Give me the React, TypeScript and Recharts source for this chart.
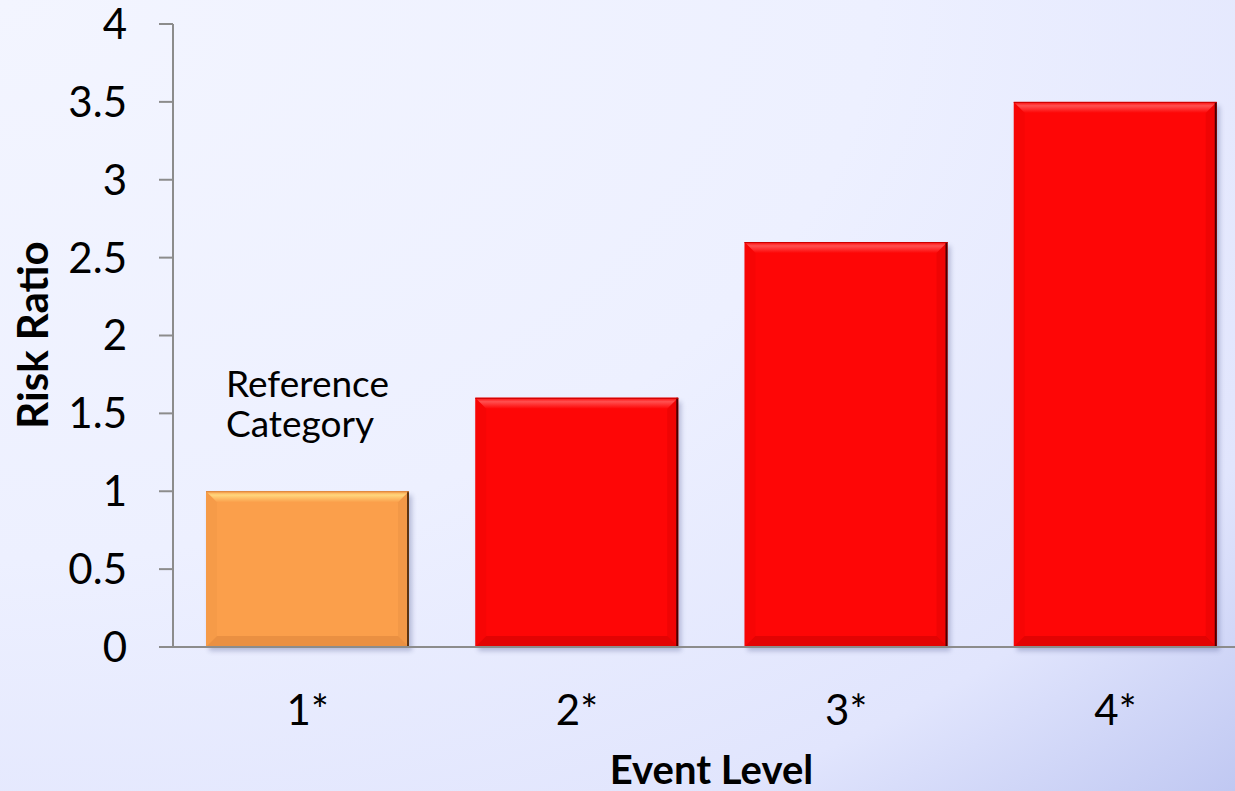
import { BarChart, Bar, XAxis, YAxis, LabelList } from "recharts";

const LEVELS = ["1*", "2*", "3*", "4*"];
const RISK = [1, 1.6, 2.6, 3.5];
const Y_TICKS = [0, 0.5, 1, 1.5, 2, 2.5, 3, 3.5, 4];
const NOTE = ["Reference", "Category"];

// bar tones: base, highlight, shade, edge
const TONES = [
  { base: "#FB9F4B", hi: "#FFD67C", shade: "#D9823A", edge: "#5C3310" },
  { base: "#FE0606", hi: "#FF5050", shade: "#C80000", edge: "#4A0000" },
  { base: "#FE0606", hi: "#FF5050", shade: "#C80000", edge: "#4A0000" },
  { base: "#FE0606", hi: "#FF5050", shade: "#C80000", edge: "#4A0000" },
];

const data = LEVELS.map((name, i) => ({ name, risk: RISK[i] }));

const FONT = "Lato, 'Open Sans', sans-serif";

function BevelBar(props: any) {
  const { x, y, width, height, index } = props;
  const t = TONES[index] || TONES[1];
  const b = Math.min(11, height / 2);
  const r = x + width;
  const btm = y + height;
  return (
    <g>
      <rect x={x + 3} y={y + 4} width={width} height={height} fill="#3a4480" opacity={0.3} filter="url(#shadowBlur)" />
      <rect x={x} y={y} width={width} height={height} fill={t.base} />
      <polygon points={`${x},${y} ${r},${y} ${r - b},${y + b} ${x + b},${y + b}`} fill={`url(#top${index})`} />
      <polygon points={`${x},${btm} ${r},${btm} ${r - b},${btm - b} ${x + b},${btm - b}`} fill={t.shade} opacity={0.5} />
      <polygon points={`${r},${y} ${r},${btm} ${r - b},${btm - b} ${r - b},${y + b}`} fill={t.shade} opacity={0.25} />
      <polygon points={`${x},${y} ${x},${btm} ${x + b},${btm - b} ${x + b},${y + b}`} fill={t.shade} opacity={0.12} />
      <line x1={r - 1} y1={y} x2={r - 1} y2={btm} stroke={t.edge} strokeWidth={2} />
      <line x1={x} y1={y + 0.5} x2={r} y2={y + 0.5} stroke={t.shade} strokeWidth={1} />
    </g>
  );
}

function NoteLabel(props: any) {
  const { x, y, index } = props;
  if (index !== 0) return null;
  return (
    <text x={x + 20} fontFamily={FONT} fontSize={37} fill="#000">
      <tspan x={x + 20} y={y - 94}>{NOTE[0]}</tspan>
      <tspan x={x + 20} y={y - 54}>{NOTE[1]}</tspan>
    </text>
  );
}

export default function App() {
  return (
    <div
      style={{
        position: "absolute",
        left: 0,
        top: 0,
        width: 1235,
        height: 791,
        overflow: "hidden",
        background:
          "radial-gradient(farthest-corner at 0% 0%, #F3F5FF 0%, #EDF0FF 50%, #E1E5FD 82%, #C0C8F2 100%)",
      }}
    >
      <BarChart width={1250} height={791} data={data} margin={{ top: 24, right: 0, bottom: 0, left: 0 }} barCategoryGap={33}>
        <defs>
          <filter id="shadowBlur" x="-10%" y="-10%" width="120%" height="120%">
            <feGaussianBlur stdDeviation="2.5" />
          </filter>
          {TONES.map((t, i) => (
            <linearGradient key={i} id={`top${i}`} x1="0" y1="0" x2="0" y2="1">
              <stop offset="0%" stopColor={t.base} />
              <stop offset="35%" stopColor={t.hi} />
              <stop offset="100%" stopColor={t.base} />
            </linearGradient>
          ))}
        </defs>
        <XAxis
          dataKey="name"
          height={144}
          tickLine={false}
          tickSize={0}
          tickMargin={48}
          axisLine={{ stroke: "#8C8C8C", strokeWidth: 2 }}
          tick={{ fontFamily: FONT, fontSize: 42, fill: "#000" }}
          label={{ value: "Event Level", position: "insideBottom", offset: 7, fontFamily: FONT, fontSize: 40, fontWeight: 700, fill: "#000" }}
        />
        <YAxis
          width={173}
          domain={[0, 4]}
          ticks={Y_TICKS}
          interval={0}
          tickSize={14}
          tickMargin={32}
          axisLine={{ stroke: "#8C8C8C", strokeWidth: 2 }}
          tickLine={{ stroke: "#8C8C8C", strokeWidth: 2 }}
          tick={{ fontFamily: FONT, fontSize: 42, fill: "#000" }}
          label={{
            content: () => (
              <text
                x={32}
                y={335}
                transform="rotate(-90 32 335)"
                textAnchor="middle"
                dominantBaseline="central"
                fontFamily={FONT}
                fontSize={42}
                fontWeight={700}
                fill="#000"
              >
                Risk Ratio
              </text>
            ),
          }}
        />
        <Bar dataKey="risk" shape={<BevelBar />} isAnimationActive={false}>
          <LabelList dataKey="risk" content={<NoteLabel />} />
        </Bar>
      </BarChart>
    </div>
  );
}
